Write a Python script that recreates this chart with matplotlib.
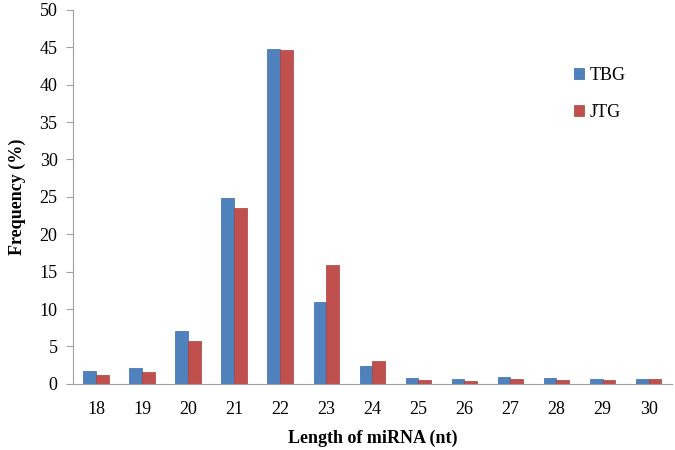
import numpy as np
import matplotlib.pyplot as plt

# miRNA length distribution
lengths = ['18', '19', '20', '21', '22', '23', '24', '25', '26', '27', '28', '29', '30']
tbg = [1.75, 2.15, 7.1, 24.9, 44.8, 10.9, 2.45, 0.76, 0.67, 0.94, 0.76, 0.67, 0.67]
jtg = [1.13, 1.56, 5.7, 23.5, 44.6, 15.9, 3.03, 0.45, 0.36, 0.67, 0.57, 0.45, 0.6]

plt.rcParams['font.family'] = ['Liberation Serif', 'DejaVu Serif']

fig = plt.figure(figsize=(6.75, 4.5), dpi=100)
ax = fig.add_axes([0.108, 0.147, 0.887, 0.831])

x = np.arange(len(lengths))
w = 0.275
ax.bar(x - w/2, tbg, w, color='#4F81BD', edgecolor='#3A6BA8', linewidth=0.5, label='TBG')
ax.bar(x + w/2, jtg, w, color='#C0504D', edgecolor='#A8403D', linewidth=0.5, label='JTG')

ax.set_xlim(-0.5, len(lengths) - 0.5)
ax.set_ylim(0, 50)
ax.set_yticks(range(0, 51, 5))
ax.set_xticks(x)
ax.set_xticklabels(lengths)

for s in ['top', 'right']:
    ax.spines[s].set_visible(False)
for s in ['left', 'bottom']:
    ax.spines[s].set_color('#A0A0A0')
ax.tick_params(axis='y', direction='out', length=5, color='#A0A0A0', labelsize=13, pad=6)
ax.tick_params(axis='x', length=0, labelsize=13, pad=12)

ax.set_xlabel('Length of miRNA (nt)', fontsize=13, fontweight='bold', labelpad=9)
ax.set_ylabel('Frequency (%)', fontsize=13, fontweight='bold', labelpad=10)

ax.legend(loc='upper left', bbox_to_anchor=(0.81, 0.89), frameon=False, fontsize=13,
          handlelength=0.55, handleheight=0.55, labelspacing=1.1, handletextpad=0.3)

fig.savefig('out.png', dpi=100)
